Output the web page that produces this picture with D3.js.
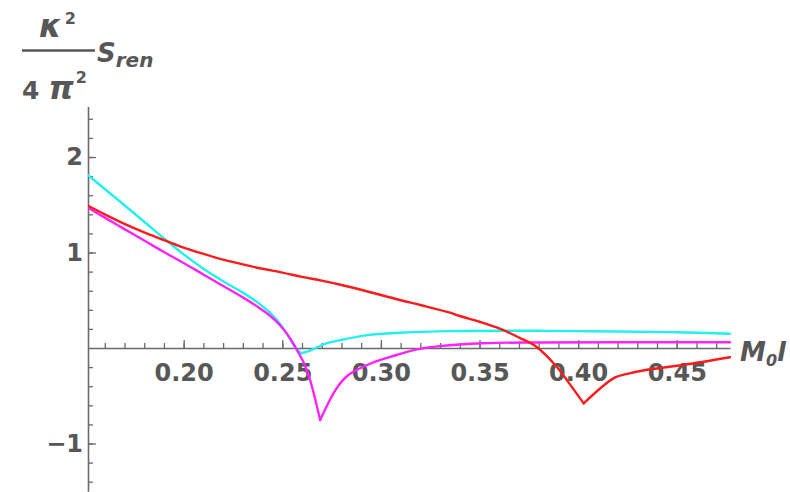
<!DOCTYPE html>
<html>
<head>
<meta charset="utf-8">
<script src="https://cdn.jsdelivr.net/npm/d3@7"></script>
<style>
  body { margin: 0; background: #fff; }
  svg { display: block; }
</style>
</head>
<body>
<div id="chart"></div>
<script>
// series: [M0 l, value]
const cyanPts = [
  [0.1515, 1.81], [0.160, 1.665], [0.170, 1.495], [0.180, 1.322], [0.190, 1.148],
  [0.200, 0.98], [0.210, 0.83], [0.220, 0.70], [0.230, 0.58], [0.238, 0.47],
  [0.244, 0.365], [0.249, 0.25], [0.253, 0.128], [0.2568, 0.0], [0.2595, -0.055],
  [0.263, -0.035], [0.267, 0.0], [0.272, 0.045], [0.280, 0.085], [0.293, 0.135],
  [0.310, 0.16], [0.335, 0.177], [0.380, 0.18], [0.420, 0.173], [0.450, 0.165],
  [0.477, 0.15]
];
const magentaPts = [
  [0.1515, 1.47], [0.160, 1.365], [0.170, 1.245], [0.180, 1.125], [0.190, 1.005],
  [0.200, 0.89], [0.210, 0.77], [0.220, 0.65], [0.230, 0.53], [0.238, 0.425],
  [0.244, 0.335], [0.249, 0.235], [0.2535, 0.115], [0.2574, -0.02], [0.2610, -0.16],
  [0.2641, -0.335], [0.2692, -0.754], [0.2776, -0.42], [0.2835, -0.283], [0.2945, -0.165],
  [0.3081, -0.073], [0.3182, -0.015], [0.330, 0.02], [0.3518, 0.05], [0.380, 0.058],
  [0.420, 0.06], [0.477, 0.06]
];
const redPts = [
  [0.1515, 1.49], [0.160, 1.40], [0.170, 1.30], [0.180, 1.21], [0.190, 1.13],
  [0.200, 1.05], [0.210, 0.985], [0.220, 0.925], [0.230, 0.875], [0.240, 0.83],
  [0.250, 0.79], [0.260, 0.745], [0.270, 0.705], [0.280, 0.66], [0.290, 0.61],
  [0.300, 0.555], [0.310, 0.5], [0.320, 0.45], [0.335, 0.37], [0.340, 0.335],
  [0.350, 0.275], [0.360, 0.205], [0.370, 0.11], [0.379, 0.01], [0.3891, -0.196],
  [0.3955, -0.37], [0.4028, -0.58], [0.4185, -0.31], [0.425, -0.27], [0.433, -0.235],
  [0.453, -0.178], [0.477, -0.097]
];
const seriesColors = ["#22f0f0", "#ff22ff", "#ff1a1a"];

const xMajor = [0.20, 0.25, 0.30, 0.35, 0.40, 0.45];
const xMinor = d3.range(16, 48).map(d => d / 100);
const yMajor = [-1, 1, 2];
const yMinor = d3.range(-7, 13).map(d => d / 5).filter(d => Math.abs(d) > 1e-9);

const width = 790, height = 492;
const svg = d3.select("#chart").append("svg")
  .attr("width", width)
  .attr("height", height);

const x = d3.scaleLinear().domain([0.1515, 0.477]).range([88, 730]);
const y = d3.scaleLinear().domain([-1.5, 2.53]).range([491.25, 106.4]);

const axisColor = "#6a6a6a";
const textColor = "#575757";

// x axis: minor ticks, then major ticks with labels
svg.append("g")
  .attr("transform", `translate(0,${y(0)})`)
  .call(d3.axisBottom(x).tickValues(xMinor).tickSize(-5).tickSizeOuter(0).tickFormat(""))
  .call(g => g.select(".domain").remove());

svg.append("g")
  .attr("transform", `translate(0,${y(0)})`)
  .call(d3.axisBottom(x).tickValues(xMajor).tickSize(-8).tickSizeOuter(0)
    .tickPadding(16).tickFormat(d3.format(".2f")));

// y axis
svg.append("g")
  .attr("transform", `translate(${x.range()[0]},0)`)
  .call(d3.axisLeft(y).tickValues(yMinor).tickSize(-5).tickSizeOuter(0).tickFormat(""))
  .call(g => g.select(".domain").remove());

svg.append("g")
  .attr("transform", `translate(${x.range()[0]},0)`)
  .call(d3.axisLeft(y).tickValues(yMajor).tickSize(-8).tickSizeOuter(0)
    .tickPadding(5).tickFormat(d3.format("d")));

svg.selectAll(".tick line").attr("stroke", axisColor).attr("stroke-width", 1.3);
svg.selectAll(".domain").attr("stroke", axisColor).attr("stroke-width", 1.6);
svg.selectAll("g").attr("font-family", null).attr("font-size", null);
svg.selectAll(".tick text")
  .attr("fill", textColor)
  .style("font-family", "'DejaVu Sans', sans-serif")
  .style("font-weight", "bold")
  .style("font-size", "24px");

// curves
svg.append("clipPath").attr("id", "plot")
  .append("rect")
  .attr("x", x.range()[0]).attr("y", y.range()[1])
  .attr("width", x.range()[1] - x.range()[0] + 2)
  .attr("height", y.range()[0] - y.range()[1]);

const line = d3.line()
  .x(d => x(d[0]))
  .y(d => y(d[1]))
  .curve(d3.curveCatmullRom.alpha(0.5));

// split each curve at its cusp (the minimum) so the V stays sharp
[cyanPts, magentaPts, redPts].forEach((pts, i) => {
  const k = d3.minIndex(pts, d => d[1]);
  [pts.slice(0, k + 1), pts.slice(k)].forEach(seg => {
    svg.append("path")
      .datum(seg)
      .attr("clip-path", "url(#plot)")
      .attr("fill", "none")
      .attr("stroke", seriesColors[i])
      .attr("stroke-width", 2.4)
      .attr("stroke-linejoin", "round")
      .attr("stroke-linecap", "round")
      .attr("d", line);
  });
});

// axis labels
const lab = svg.append("g")
  .attr("fill", textColor)
  .style("font-family", "'DejaVu Sans', sans-serif")
  .style("font-weight", "bold")
  .style("font-style", "italic");

const kap = lab.append("text").attr("x", 39).attr("y", 37);
kap.append("tspan").style("font-size", "32px").text("κ");
kap.append("tspan").attr("dx", 3).attr("dy", -13).style("font-size", "16px").style("font-style", "normal").text("2");
lab.append("line")
  .attr("x1", 22).attr("x2", 95).attr("y1", 50.5).attr("y2", 50.5)
  .attr("stroke", textColor).attr("stroke-width", 2.5);
const den = lab.append("text").attr("x", 22).attr("y", 99);
den.append("tspan").style("font-size", "25px").style("font-style", "normal").text("4");
den.append("tspan").attr("dx", 9).style("font-size", "32px").text("π");
den.append("tspan").attr("dx", 2).attr("dy", -16).style("font-size", "16px").style("font-style", "normal").text("2");
const sr = lab.append("text").attr("x", 97).attr("y", 62);
sr.append("tspan").style("font-size", "26px").text("S");
sr.append("tspan").attr("dy", 5).style("font-size", "20px").text("ren");

const ml = lab.append("text").attr("x", 740).attr("y", 361).style("font-size", "26px");
ml.append("tspan").text("M");
ml.append("tspan").attr("dy", 5).style("font-size", "16px").text("0");
ml.append("tspan").attr("dy", -5).text("l");
</script>
</body>
</html>
